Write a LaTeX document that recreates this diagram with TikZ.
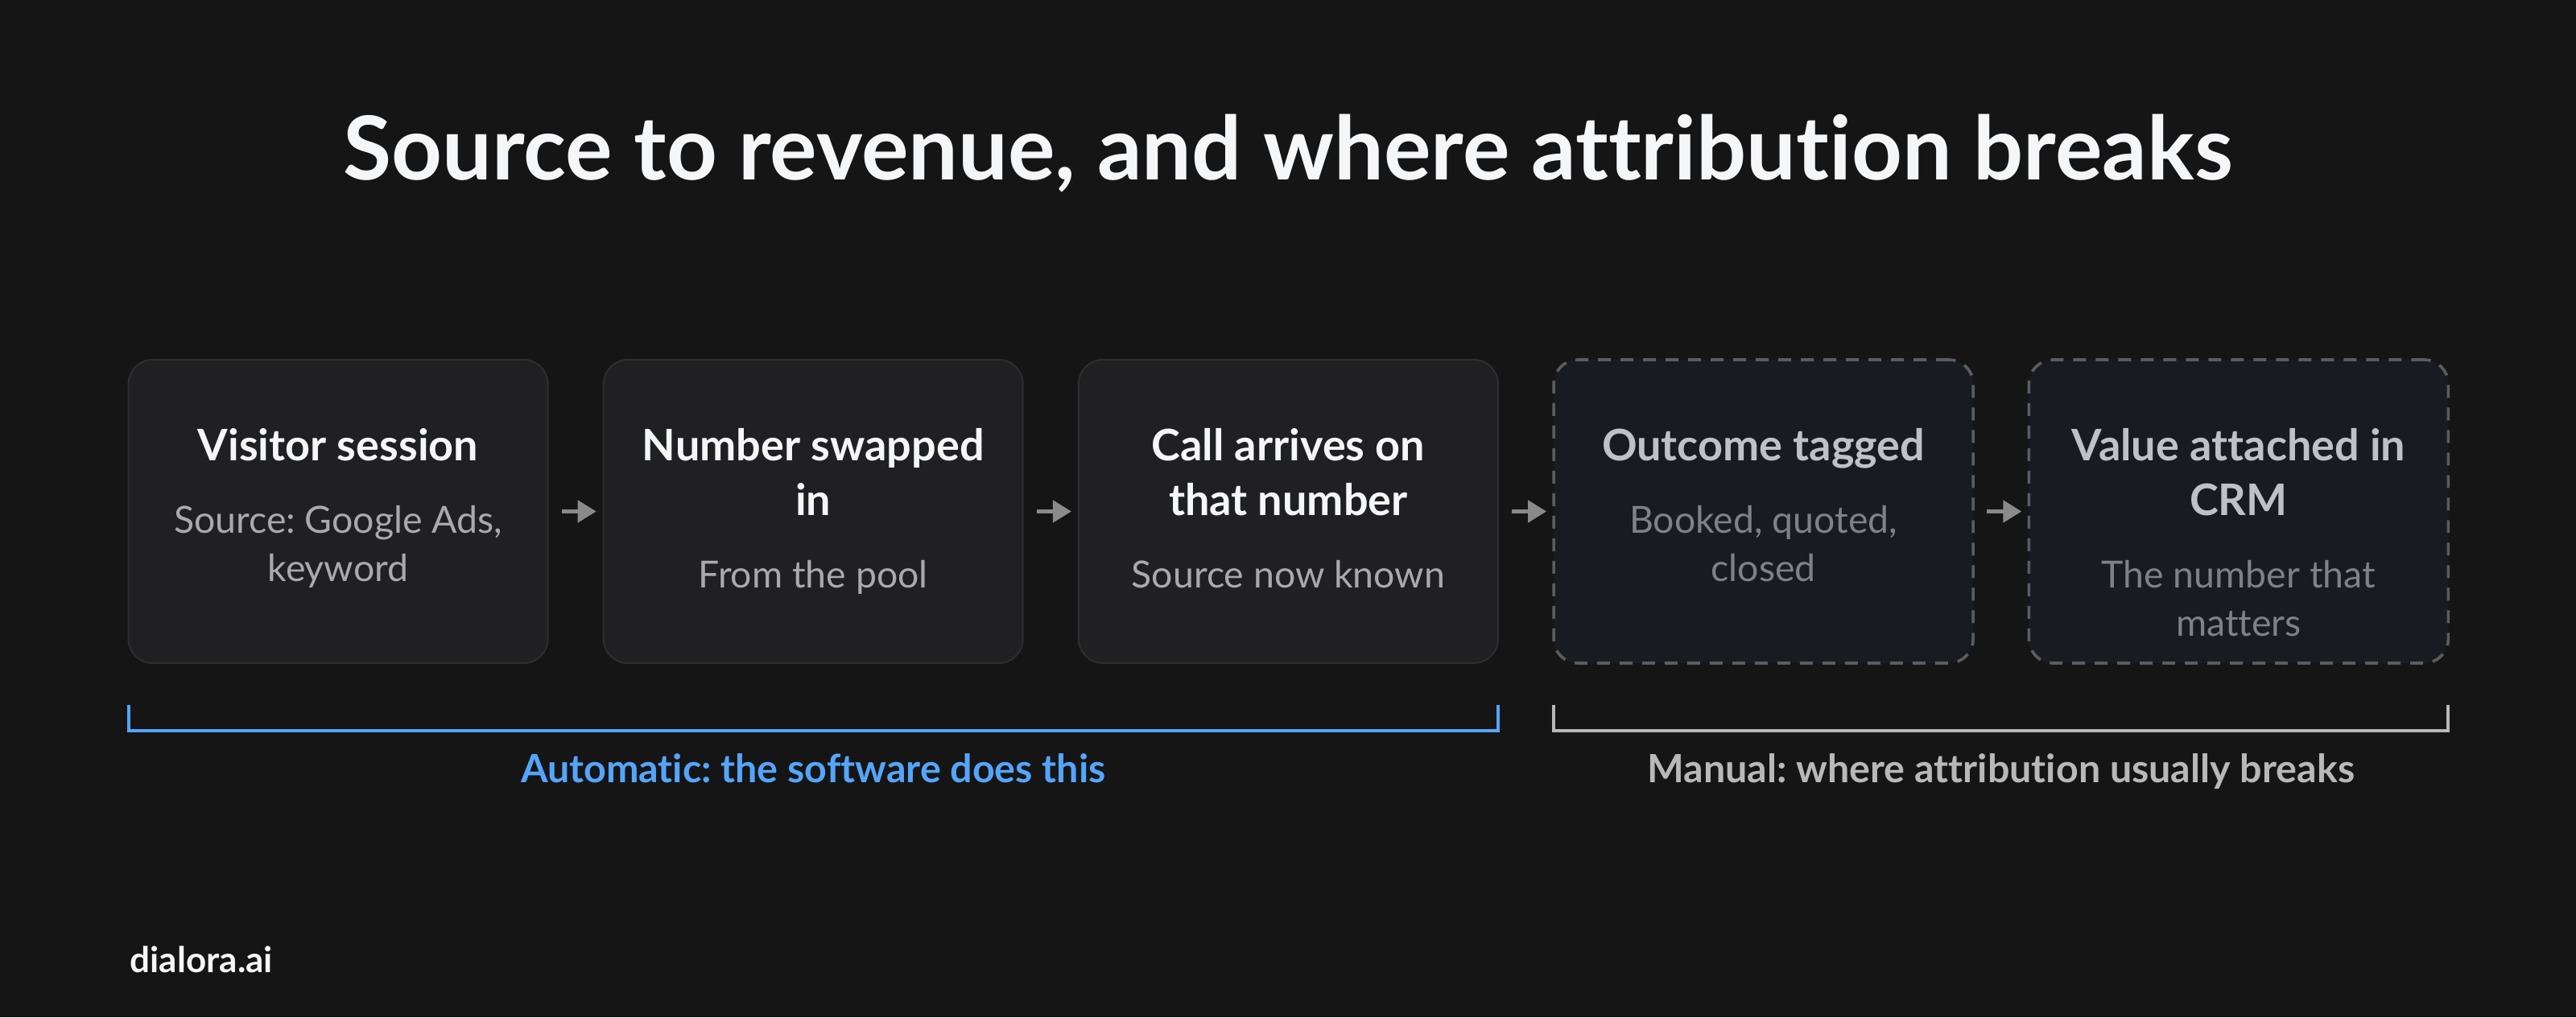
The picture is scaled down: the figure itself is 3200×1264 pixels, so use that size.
\documentclass[tikz,border=0pt]{standalone}
\usepackage{fontspec}
\setmainfont{Lato}[Ligatures=NoCommon]
\usepackage{tikz}
\usetikzlibrary{calc}
\usetikzlibrary{positioning}
\usetikzlibrary{arrows.meta}

\definecolor{bgdark}{RGB}{21,21,22}
\definecolor{cardfill}{RGB}{32,32,34}
\definecolor{cardline}{RGB}{46,46,49}
\definecolor{openfill}{RGB}{24,27,33}
\definecolor{openline}{RGB}{92,92,94}
\definecolor{titlewhite}{RGB}{245,246,248}
\definecolor{cardsub}{RGB}{170,170,172}
\definecolor{opentitle}{RGB}{190,193,198}
\definecolor{opensub}{RGB}{126,130,136}
\definecolor{flowgray}{RGB}{138,138,138}
\definecolor{autoblue}{RGB}{84,165,250}
\definecolor{manualgray}{RGB}{184,184,184}

\frenchspacing
\newcommand{\boxtitle}{\fontsize{13.5pt}{17pt}\selectfont\bfseries}
\newcommand{\boxsub}{\par\vskip7.5pt\fontsize{11.6pt}{15pt}\selectfont\mdseries}

\begin{document}
\begin{tikzpicture}[x=0.25pt,y=-0.25pt,
    card/.style={draw=cardline,fill=cardfill,line width=0.5pt,rounded corners=7.5pt,
      minimum width=130.25pt,minimum height=94.25pt,inner sep=0pt,outer sep=0pt},
    cardopen/.style={card,draw=openline,fill=openfill,line width=0.9pt,
      dash pattern=on 4pt off 3pt},
    cardtext/.style={anchor=base,inner sep=0pt,text=titlewhite},
    opentext/.style={cardtext,text=opentitle},
    flow/.style={-{Triangle[length=5.75pt,width=6.75pt]},flowgray,line width=1.25pt,
      shorten <=4.25pt,shorten >=2.25pt},
    node distance=17.3pt]
  \fill[bgdark] (0,0) rectangle (3200,1264);

  \node[anchor=base,inner sep=0pt,text=titlewhite,font=\fontsize{27.4pt}{32pt}\selectfont\bfseries] (title)
    at (1600,223) {Source to revenue, and where attribution breaks};

  % the five steps
  \node[card] (b1) at (420,635.5) {};
  \node[card,right=of b1] (b2) {};
  \node[card,right=of b2] (b3) {};
  \node[cardopen,right=of b3] (b4) {};
  \node[cardopen,right=of b4] (b5) {};

  \node[cardtext] (t1) at ($(b1.north)+(0,125)$) {\parbox[t]{125pt}{\centering
    \boxtitle Visitor session\boxsub\color{cardsub} Source: Google Ads,\\ keyword}};
  \node[cardtext] (t2) at ($(b2.north)+(0,125)$) {\parbox[t]{125pt}{\centering
    \boxtitle Number swapped\\ in\boxsub\color{cardsub} From the pool}};
  \node[cardtext] (t3) at ($(b3.north)+(0,125)$) {\parbox[t]{125pt}{\centering
    \boxtitle Call arrives on\\ that number\boxsub\color{cardsub} Source now known}};
  \node[opentext] (t4) at ($(b4.north)+(0,125)$) {\parbox[t]{125pt}{\centering
    \boxtitle Outcome tagged\boxsub\color{opensub} Booked, quoted,\\ closed}};
  \node[opentext] (t5) at ($(b5.north)+(0,125)$) {\parbox[t]{125pt}{\centering
    \boxtitle Value attached in\\ CRM\boxsub\color{opensub} The number that\\ matters}};

  \draw[flow] (b1) -- (b2);
  \draw[flow] (b2) -- (b3);
  \draw[flow] (b3) -- (b4);
  \draw[flow] (b4) -- (b5);

  % brackets
  \draw[autoblue,line width=1pt] ($(b1.south west)+(0,52)$) -- ($(b1.south west)+(0,84)$)
    -- ($(b3.south east)+(0,84)$) -- ($(b3.south east)+(0,52)$);
  \node[anchor=base,inner sep=0pt,text=autoblue,font=\fontsize{12.1pt}{14pt}\selectfont\bfseries] (auto)
    at ($(b1.south west)!0.5!(b3.south east)+(0,148)$) {Automatic: the software does this};

  \draw[manualgray,line width=1pt] ($(b4.south west)+(0,52)$) -- ($(b4.south west)+(0,84)$)
    -- ($(b5.south east)+(0,84)$) -- ($(b5.south east)+(0,52)$);
  \node[anchor=base,inner sep=0pt,text=manualgray,font=\fontsize{12.1pt}{14pt}\selectfont\bfseries] (manual)
    at ($(b4.south west)!0.5!(b5.south east)+(0,148)$) {Manual: where attribution usually breaks};

  \node[anchor=base west,inner sep=0pt,text=titlewhite,font=\fontsize{11pt}{13pt}\selectfont\bfseries] (brand)
    at (161,1208) {dialora.ai};
\end{tikzpicture}
\end{document}
